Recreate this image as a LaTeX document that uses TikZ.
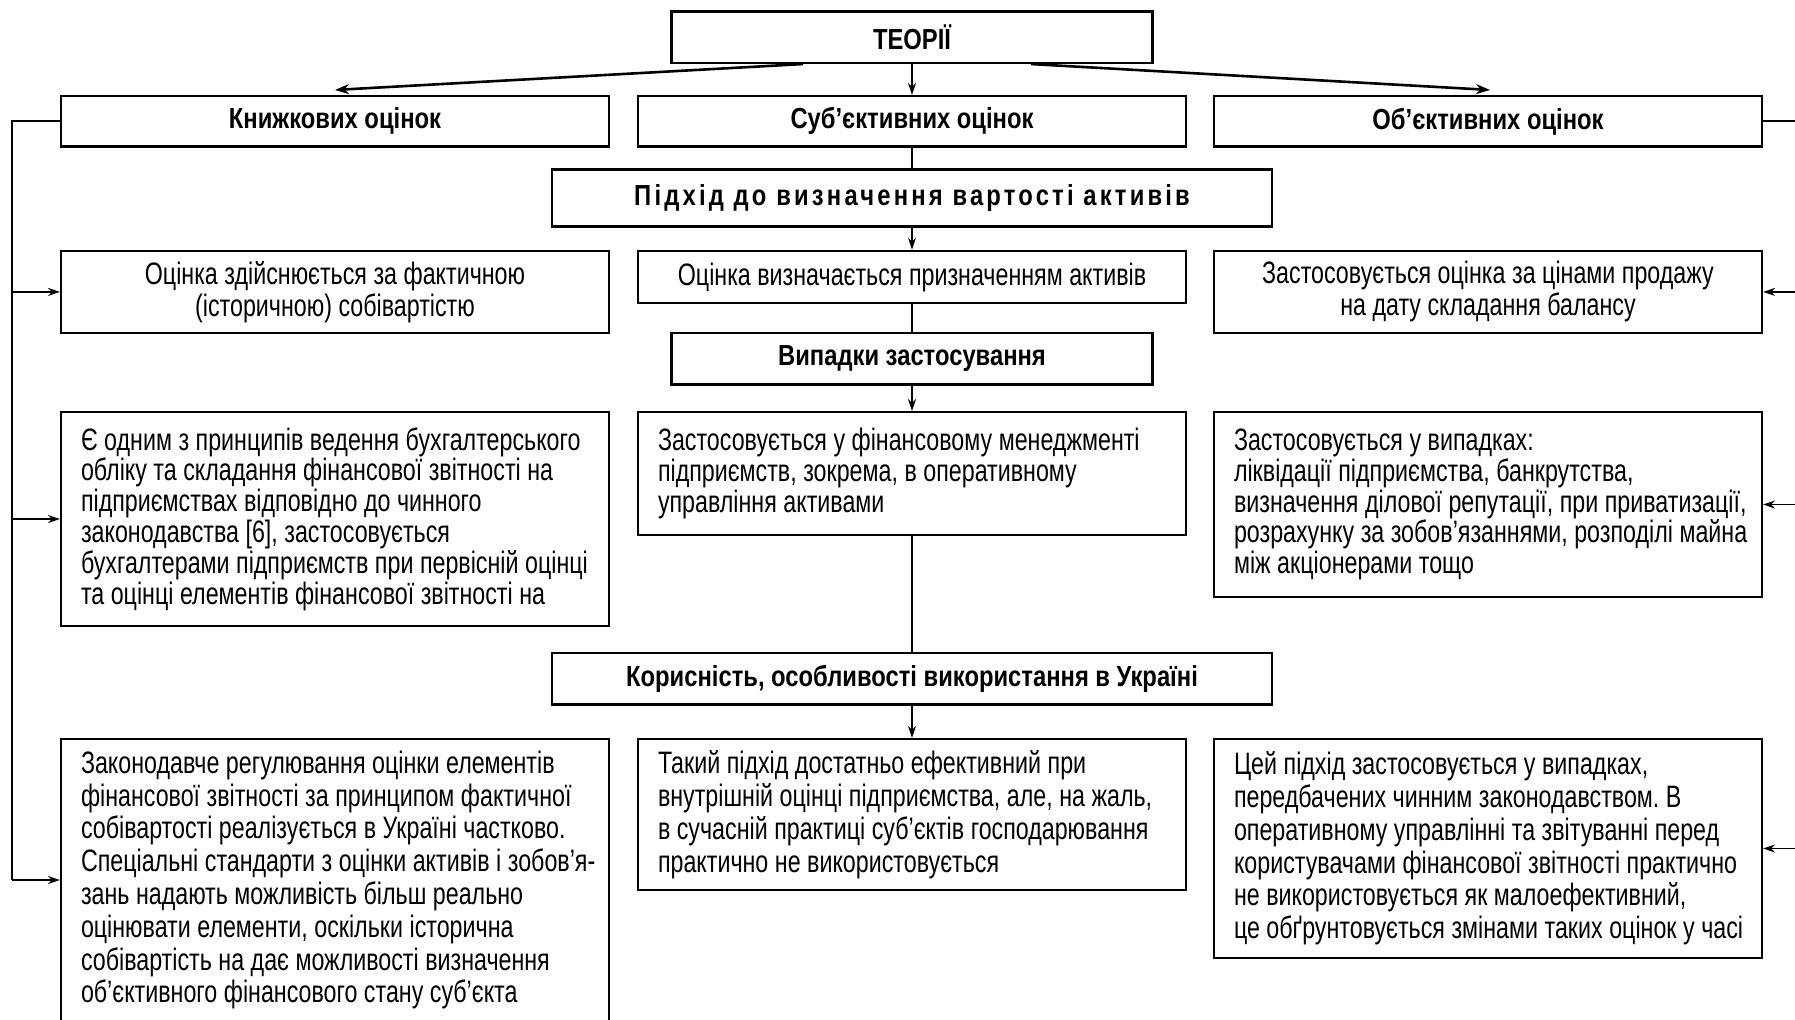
\documentclass[tikz,border=0pt]{standalone}
\usepackage{fontspec}
\setmainfont[FakeStretch=0.82]{Liberation Sans}
\newfontfamily\spacedfont[FakeStretch=0.82,LetterSpace=11]{Liberation Sans}
\newfontfamily\bodyfont[FakeStretch=0.75]{Liberation Sans}
\usetikzlibrary{arrows.meta,calc}
\newcommand\myl[1]{\mbox{\spaceskip=0.21em\relax #1}}
\frenchspacing
\begin{document}
\begin{tikzpicture}[x=0.5pt,y=-0.5pt,
  box/.style={draw,line width=1.05pt,inner sep=0pt,minimum width=274pt},
  ttl/.style={box,font=\fontsize{14.5pt}{16pt}\selectfont\bfseries},
  lbox/.style={box,align=left,text width=254pt,inner xsep=10pt,font=\fontsize{15.5pt}{15.4pt}\bodyfont\frenchspacing},
  lboxb/.style={box,align=left,text width=254pt,inner xsep=10pt,font=\fontsize{15.5pt}{16.4pt}\bodyfont\frenchspacing},
  cbox/.style={box,align=center,text width=254pt,inner xsep=10pt,font=\fontsize{15.5pt}{16pt}\bodyfont\frenchspacing},
  conn/.style={line width=0.8pt},
  arr/.style={conn,-{Stealth[length=6pt,width=4pt]}},
  darr/.style={line width=1.3pt,-{Stealth[length=7pt,width=5pt]}}]
\useasboundingbox (0,0) rectangle (1795,1019);
\fill[white] (0,0) rectangle (1795,1019);
\clip (0,0) rectangle (1795,1019);

% top
\node[ttl,minimum width=240.5pt,minimum height=25.75pt] (theory) at (912,37.25) {ТЕОРІЇ};
\node[ttl,minimum height=25.25pt] (knizh) at (335,121.25) {Книжкових оцінок};
\node[ttl,minimum height=25.25pt] (subj) at (912,121.25) {Суб’єктивних оцінок};
\node[ttl,minimum height=25.25pt] (obj) at (1488,121.25) {Об’єктивних оцінок};

\node[box,minimum width=360pt,minimum height=28.5pt,font=\fontsize{14.5pt}{16pt}\spacedfont\bfseries] (pidhid) at (912,198) {Підхід до визначення вартості активів};

% row 2
\node[cbox,minimum height=41.2pt] (b6) at (335,291.9) {\myl{Оцінка здійснюється за фактичною}\\\myl{(історичною) собівартістю}};
\node[cbox,minimum height=26.35pt] (b7) at (912,277) {\myl{Оцінка визначається призначенням активів}};
\node[cbox,minimum height=41.2pt] (b8) at (1488,291.9) {\myl{Застосовується оцінка за цінами продажу}\\\myl{на дату складання балансу}};

\node[ttl,minimum width=240.5pt,minimum height=25.75pt] (vyp) at (912,358.75) {Випадки застосування};

% row 3
\node[lbox,minimum height=107pt] (b10) at (335,519) {\myl{Є одним з принципів ведення бухгалтерського}\\\myl{обліку та складання фінансової звітності на}\\\myl{підприємствах відповідно до чинного}\\\myl{законодавства [6], застосовується}\\\myl{бухгалтерами підприємств при первісній оцінці}\\\myl{та оцінці елементів фінансової звітності на}};
\node[lbox,minimum height=61.5pt] (b11) at (912,473.5) {\myl{Застосовується у фінансовому менеджменті}\\\myl{підприємств, зокрема, в оперативному}\\\myl{управління активами}};
\node[lbox,minimum height=92.5pt] (b12) at (1488,504.5) {\myl{Застосовується у випадках:}\\\myl{ліквідації підприємства, банкрутства,}\\\myl{визначення ділової репутації, при приватизації,}\\\myl{розрахунку за зобов’язаннями, розподілі майна}\\\myl{між акціонерами тощо}};

\node[ttl,minimum width=360pt,minimum height=25.75pt] (kor) at (912,678.75) {Корисність, особливості використання в Україні};

% row 4
\node[lboxb,minimum height=141pt] (b14) at (335,880) {\myl{Законодавче регулювання оцінки елементів}\\\myl{фінансової звітності за принципом фактичної}\\\myl{собівартості реалізується в Україні частково.}\\\myl{Спеціальні стандарти з оцінки активів і зобов’я-}\\\myl{зань надають можливість більш реально}\\\myl{оцінювати елементи, оскільки історична}\\\myl{собівартість на дає можливості визначення}\\\myl{об’єктивного фінансового стану суб’єкта}};
\node[lboxb,minimum height=75.5pt] (b15) at (912,814.5) {\myl{Такий підхід достатньо ефективний при}\\\myl{внутрішній оцінці підприємства, але, на жаль,}\\\myl{в сучасній практиці суб’єктів господарювання}\\\myl{практично не використовується}};
\node[lboxb,minimum height=109.5pt] (b16) at (1488,848.5) {\myl{Цей підхід застосовується у випадках,}\\\myl{передбачених чинним законодавством. В}\\\myl{оперативному управлінні та звітуванні перед}\\\myl{користувачами фінансової звітності практично}\\\myl{не використовується як малоефективний,}\\\myl{це обґрунтовується змінами таких оцінок у часі}};

% central connectors
\draw[darr] ($(theory.south)+(-109,0)$) -- ($(knizh.north)+(0,-5)$);
\draw[darr] ($(theory.south)+(119,0)$) -- ($(obj.north)+(2,-5)$);
\draw[arr] (theory) -- (subj);
\draw[conn] (subj) -- (pidhid);
\draw[arr] (pidhid) -- (b7);
\draw[conn] (b7) -- (vyp);
\draw[arr] (vyp) -- (b11);
\draw[conn] (b11) -- (kor);
\draw[arr] (kor) -- (b15);

% left bracket
\coordinate (L) at (12,121.25);
\draw[conn] (knizh.west) -- (L) -- (L |- b14.west);
\draw[arr] (L |- b6.west) -- (b6.west);
\draw[arr] (L |- b10.west) -- (b10.west);
\draw[arr] (L |- b14.west) -- (b14.west);

% right bracket
\coordinate (R) at (1810,121.25);
\draw[conn] (obj.east) -- (R) -- (R |- b16.east);
\draw[arr] (R |- b8.east) -- (b8.east);
\draw[arr] (R |- b12.east) -- (b12.east);
\draw[arr] (R |- b16.east) -- (b16.east);
\end{tikzpicture}
\end{document}
